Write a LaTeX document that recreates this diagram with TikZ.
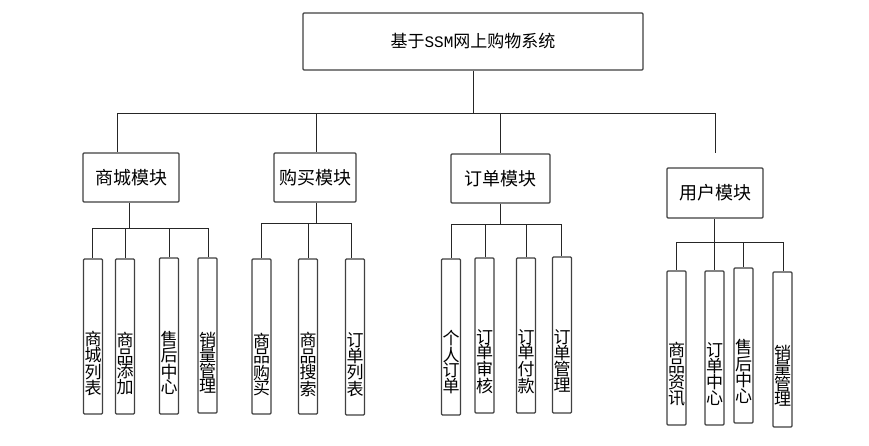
\documentclass[tikz,border=0pt]{standalone}
\usepackage{fontspec}
\setmainfont{Noto Sans CJK SC}
\newfontfamily\latinmono{Liberation Mono}
\begin{document}
\begin{tikzpicture}[x=1pt,y=-1pt,
  box/.style={draw=black!75, line width=1.2pt, rounded corners=1pt, fill=white, inner sep=0pt, anchor=center},
  topbox/.style={box, minimum width=340pt, minimum height=57pt, font=\fontsize{17}{19}\selectfont},
  modbox/.style={box, minimum height=49pt, font=\fontsize{18}{20}\selectfont},
  leafbox/.style={box, minimum width=19pt, line width=1.1pt},
  vtext/.style={inner sep=0pt, align=center, font=\fontsize{17}{15.5}\selectfont, anchor=center},
  link/.style={draw=black!85, line width=1pt}]
\useasboundingbox (0,0) rectangle (869,445);

% root
\node[topbox] (top) at (473,41.5) {基于{\latinmono\fontsize{16}{19}\selectfont SSM}网上购物系统};

% modules
\node[modbox, minimum width=96pt] (m1) at (131,177.5) {商城模块};
\node[modbox, minimum width=82pt] (m2) at (315,177.5) {购买模块};
\node[modbox, minimum width=99pt] (m3) at (500.5,178.5) {订单模块};
\node[modbox, minimum width=96pt, minimum height=50pt] (m4) at (715,193) {用户模块};

% leaves of the mall module
\node[leafbox, minimum height=155pt] (l11) at (93,336.5) {};
\node[leafbox, minimum height=155pt] (l12) at (125,336.5) {};
\node[leafbox, minimum height=156pt] (l13) at (169,336) {};
\node[leafbox, minimum height=155pt] (l14) at (207.5,335.5) {};
% leaves of the purchase module
\node[leafbox, minimum height=155pt] (l21) at (261.5,336.5) {};
\node[leafbox, minimum height=155pt] (l22) at (308,336.5) {};
\node[leafbox, minimum height=156pt] (l23) at (355,337) {};
% leaves of the order module
\node[leafbox, minimum height=156pt] (l31) at (451,337) {};
\node[leafbox, minimum height=155pt] (l32) at (484.5,335.5) {};
\node[leafbox, minimum height=155pt] (l33) at (526,335.5) {};
\node[leafbox, minimum height=156pt] (l34) at (562,335) {};
% leaves of the user module
\node[leafbox, minimum height=154pt] (l41) at (676.5,348) {};
\node[leafbox, minimum height=154pt] (l42) at (714.5,348) {};
\node[leafbox, minimum height=155pt] (l43) at (743.5,345.5) {};
\node[leafbox, minimum height=155pt] (l44) at (782.5,349.5) {};

% vertical labels, set low in each leaf
\node[vtext] (t11) at ([yshift=-27pt]l11.center) {商\\城\\列\\表};
\node[vtext] (t12) at ([yshift=-27pt]l12.center) {商\\品\\添\\加};
\node[vtext] (t13) at ([yshift=-27pt]l13.center) {售\\后\\中\\心};
\node[vtext] (t14) at ([yshift=-27pt]l14.center) {销\\量\\管\\理};
\node[vtext] (t21) at ([yshift=-28pt]l21.center) {商\\品\\购\\买};
\node[vtext] (t22) at ([yshift=-28pt]l22.center) {商\\品\\搜\\索};
\node[vtext] (t23) at ([yshift=-28pt]l23.center) {订\\单\\列\\表};
\node[vtext] (t31) at ([yshift=-25pt]l31.center) {个\\人\\订\\单};
\node[vtext] (t32) at ([yshift=-26pt]l32.center) {订\\单\\审\\核};
\node[vtext] (t33) at ([yshift=-26pt]l33.center) {订\\单\\付\\款};
\node[vtext] (t34) at ([yshift=-26pt]l34.center) {订\\单\\管\\理};
\node[vtext] (t41) at ([yshift=-26pt]l41.center) {商\\品\\资\\讯};
\node[vtext] (t42) at ([yshift=-26pt]l42.center) {订\\单\\中\\心};
\node[vtext] (t43) at ([yshift=-26pt]l43.center) {售\\后\\中\\心};
\node[vtext] (t44) at ([yshift=-26pt]l44.center) {销\\量\\管\\理};

% main bus
\coordinate (b1) at (117,113);
\coordinate (b2) at (316,113);
\coordinate (b3) at (500,113);
\coordinate (b4) at (715,113);
\coordinate (e4) at (715,153);
\path[link] (top.south) -- (top.south |- b1);
\path[link] (b1) -- (b4);
\path[link] (b1) -- (b1 |- m1.north);
\path[link] (b2) -- (b2 |- m2.north);
\path[link] (b3) -- (b3 |- m3.north);
\path[link] (b4) -- (e4);

% mall module branch
\coordinate (d1) at (129,228);
\coordinate (s11) at (92,228);
\coordinate (s12) at (125,228);
\coordinate (s13) at (169,228);
\coordinate (s14) at (208,228);
\path[link] (m1.south -| d1) -- (d1);
\path[link] (s11) -- (s14);
\foreach \i in {1,...,4} {\path[link] (s1\i) -- (s1\i |- l1\i.north);}

% purchase module branch
\coordinate (d2) at (316,223);
\coordinate (s21) at (261,223);
\coordinate (s22) at (308,223);
\coordinate (s23) at (351,223);
\path[link] (m2.south -| d2) -- (d2);
\path[link] (s21) -- (s23);
\foreach \i in {1,...,3} {\path[link] (s2\i) -- (s2\i |- l2\i.north);}

% order module branch
\coordinate (d3) at (500,224);
\coordinate (s31) at (451,224);
\coordinate (s32) at (485,224);
\coordinate (s33) at (526,224);
\coordinate (s34) at (561,224);
\path[link] (m3.south -| d3) -- (d3);
\path[link] (s31) -- (s34);
\foreach \i in {1,...,4} {\path[link] (s3\i) -- (s3\i |- l3\i.north);}

% user module branch
\coordinate (d4) at (714,242);
\coordinate (s41) at (676,242);
\coordinate (s42) at (714,242);
\coordinate (s43) at (743,242);
\coordinate (s44) at (783,242);
\path[link] (m4.south -| d4) -- (d4);
\path[link] (s41) -- (s44);
\foreach \i in {1,...,4} {\path[link] (s4\i) -- (s4\i |- l4\i.north);}
\end{tikzpicture}
\end{document}
